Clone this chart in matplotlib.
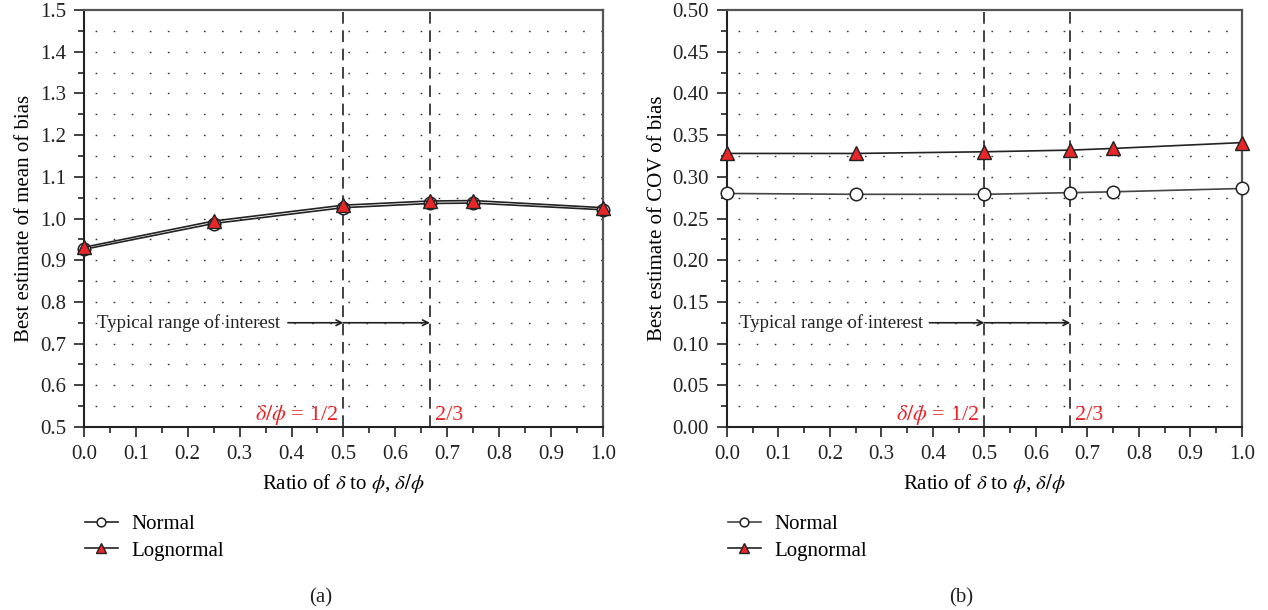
import matplotlib
matplotlib.use("Agg")
import matplotlib.pyplot as plt
import numpy as np
from matplotlib.ticker import MultipleLocator

plt.rcParams['font.family'] = ['Liberation Serif', 'DejaVu Serif']
plt.rcParams['mathtext.fontset'] = 'stix'

# data
ratio = [0.0, 0.25, 0.5, 2 / 3, 0.75, 1.0]
mean_normal = [0.926, 0.988, 1.026, 1.036, 1.037, 1.021]
mean_lognormal = [0.931, 0.994, 1.032, 1.042, 1.043, 1.026]
cov_normal = [0.280, 0.279, 0.279, 0.281, 0.282, 0.286]
cov_lognormal = [0.328, 0.328, 0.330, 0.332, 0.334, 0.341]
marks = [0.5, 2 / 3]

fig = plt.figure(figsize=(12.68, 6.10), dpi=100)
ax1 = fig.add_axes([0.0662, 0.300, 0.4093, 0.6836])
ax2 = fig.add_axes([0.5733, 0.300, 0.4062, 0.6836])

spine_grey = '#555555'


def setup(ax, ylim, major, fmt, ylabel, arrow_y, red_y):
    ax.set_xlim(0, 1)
    ax.set_ylim(*ylim)
    ax.xaxis.set_major_locator(MultipleLocator(0.1))
    ax.xaxis.set_minor_locator(MultipleLocator(0.05))
    ax.yaxis.set_major_locator(MultipleLocator(major))
    ax.yaxis.set_minor_locator(MultipleLocator(major / 2))
    ax.yaxis.set_major_formatter(plt.FormatStrFormatter(fmt))
    ax.xaxis.set_major_formatter(plt.FormatStrFormatter('%.1f'))
    ax.tick_params(which='major', direction='out', length=7, width=1.2,
                   labelsize=15, colors='#222222', pad=6)
    ax.tick_params(which='minor', direction='out', length=4, width=1.2,
                   colors='#222222')
    ax.tick_params(top=False, right=False)
    for s in ['top', 'right']:
        ax.spines[s].set_color(spine_grey)
        ax.spines[s].set_linewidth(1.6)
    for s in ['left', 'bottom']:
        ax.spines[s].set_color('#222222')
        ax.spines[s].set_linewidth(1.5)
    # dotted horizontal grid at each minor step
    ys = np.arange(ylim[0] + major / 2, ylim[1] - 1e-9, major / 2)
    for yv in ys:
        ax.axhline(yv, color='#333333', lw=1.0, ls=(5, (1.2, 11.8)), zorder=0)
    for xv in marks:
        ax.axvline(xv, color='#222222', lw=1.2, ls=(0, (7, 4)), zorder=1)
    ax.set_ylabel(ylabel, fontsize=15)
    ax.set_xlabel(r'Ratio of $\delta$ to $\phi$, $\delta/\phi$', fontsize=15, labelpad=6)
    ax.text(0.025, arrow_y, 'Typical range of interest', fontsize=13.5,
            va='center', ha='left', color='#222222')
    ax.annotate('', xy=(marks[0], arrow_y), xytext=(0.393, arrow_y),
                arrowprops=dict(arrowstyle='->', color='#222222', lw=1.2,
                                shrinkA=0, shrinkB=0))
    ax.annotate('', xy=(marks[1], arrow_y), xytext=(marks[0], arrow_y),
                arrowprops=dict(arrowstyle='->', color='#222222', lw=1.2,
                                shrinkA=0, shrinkB=0))
    ax.text(0.49, red_y, r'$\delta/\phi$ = 1/2', color='#e8262a', fontsize=16,
            ha='right', va='center')
    ax.text(0.676, red_y, '2/3', color='#e8262a', fontsize=16,
            ha='left', va='center')


setup(ax1, (0.5, 1.5), 0.1, '%.1f', 'Best estimate of mean of bias', 0.75, 0.528)
setup(ax2, (0.0, 0.5), 0.05, '%.2f', 'Best estimate of COV of bias', 0.125, 0.014)

for ax, yn, yl, cn in [(ax1, mean_normal, mean_lognormal, '#222222'),
                       (ax2, cov_normal, cov_lognormal, '#444444')]:
    ln_n, = ax.plot(ratio, yn, color=cn, lw=1.2, marker='o', ms=9,
                    mfc='white', mec='#222222', mew=1.1, zorder=3,
                    clip_on=False, label='Normal')
    ln_l, = ax.plot(ratio, yl, color='#222222', lw=1.2, marker='^', ms=10,
                    mfc='#e8262a', mec='#222222', mew=1.0, zorder=4,
                    clip_on=False, label='Lognormal')
    leg = ax.legend(handles=[ln_n, ln_l], loc='upper left',
                    bbox_to_anchor=(-0.035, -0.165), frameon=False,
                    fontsize=15, handlelength=1.6, handletextpad=0.65,
                    labelspacing=0.33, markerscale=0.7)

fig.text(0.253, 0.012, '(a)', fontsize=15, ha='center', color='#222222')
fig.text(0.758, 0.012, '(b)', fontsize=15, ha='center', color='#222222')

fig.savefig('out.png', dpi=100)
